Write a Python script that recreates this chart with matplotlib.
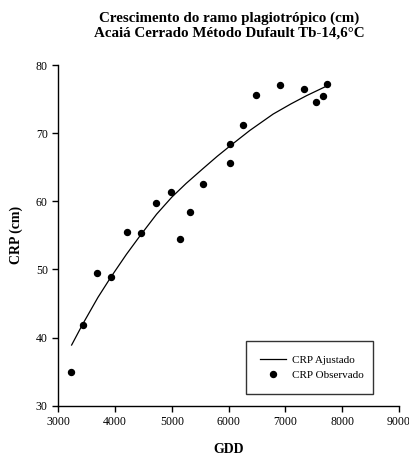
import matplotlib
matplotlib.use("Agg")
import matplotlib.pyplot as plt

# Observed data
gdd_obs = [3224, 3430, 3676, 3928, 4209, 4450, 4720, 4984, 5148, 5325, 5548,
           6028, 6028, 6246, 6486, 6903, 7320, 7542, 7665, 7730]
crp_obs = [34.9, 41.85, 49.5, 48.95, 55.55, 55.3, 59.8, 61.4, 54.4, 58.4, 62.6,
           68.4, 65.6, 71.25, 75.6, 77.05, 76.5, 74.55, 75.5, 77.2]

# Fitted curve
gdd_fit = [3236, 3430, 3700, 3922, 4200, 4438, 4732, 5000, 5250, 5550,
           5800, 6023, 6375, 6785, 7100, 7373, 7725]
crp_fit = [38.9, 41.95, 45.9, 48.8, 52.2, 54.9, 58.1, 60.6, 62.6, 64.8,
           66.6, 68.1, 70.4, 72.8, 74.3, 75.5, 76.9]

xticks = [3000, 4000, 5000, 6000, 7000, 8000, 9000]
yticks = [30, 40, 50, 60, 70, 80]

plt.rcParams['font.family'] = ['Liberation Serif', 'DejaVu Serif']

fig = plt.figure(figsize=(4.10, 4.61), dpi=100)
ax = fig.add_axes([0.142, 0.12, 0.831, 0.739])

ax.plot(gdd_fit, crp_fit, color='black', lw=0.9, label='CRP Ajustado')
ax.plot(gdd_obs, crp_obs, 'o', color='black', ms=4.3, label='CRP Observado')

ax.set_xlim(3000, 9000)
ax.set_ylim(30, 80)
ax.set_xticks(xticks)
ax.set_yticks(yticks)
ax.tick_params(direction='out', length=4, width=1, labelsize=8.5, colors='black')
for s in ['top', 'right']:
    ax.spines[s].set_visible(False)
for s in ['left', 'bottom']:
    ax.spines[s].set_linewidth(1)

ax.set_xlabel('GDD', fontsize=10, fontweight='bold', labelpad=11)
ax.set_ylabel('CRP (cm)', fontsize=10, fontweight='bold', labelpad=9)

fig.text(0.56, 0.976, 'Crescimento do ramo plagiotrópico (cm)\nAcaiá Cerrado Método Dufault Tb-14,6°C',
         ha='center', va='top', fontsize=10.8, fontweight='bold', linespacing=1.17)

leg = ax.legend(loc='lower left', bbox_to_anchor=(0.55, 0.034, 0.375, 0.156), mode='expand',
                fontsize=8, frameon=True, fancybox=False, edgecolor='black',
                handlelength=2.3, borderaxespad=0, borderpad=1.3, handletextpad=0.6,
                labelspacing=0.45)
leg.get_frame().set_linewidth(1)

fig.savefig('out.png', dpi=100)
